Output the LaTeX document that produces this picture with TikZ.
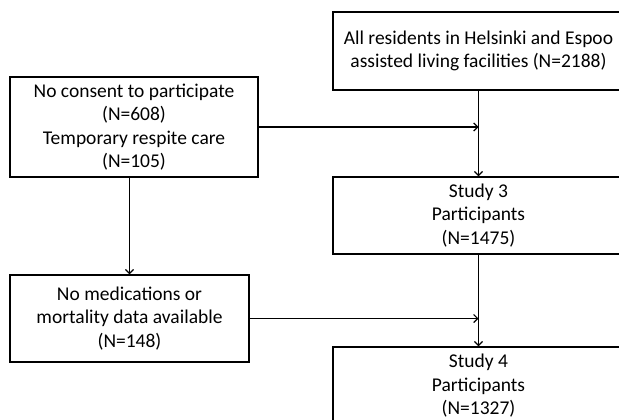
\documentclass[tikz,border=0pt]{standalone}
\usepackage{fontspec}
\setmainfont{Carlito}
\usetikzlibrary{arrows.meta}
\tikzset{
  box/.style={draw=black, line width=1.4bp, rectangle, align=center, inner sep=0pt,
    font=\fontsize{19.5bp}{23.5bp}\selectfont},
  conn/.style={draw=black, line width=1.4bp},
  arr/.style={conn, -{Straight Barb[length=4bp,width=8bp,line width=1.2bp]}}
}
\begin{document}
\begin{tikzpicture}[x=1bp,y=-1bp]
\useasboundingbox (0,0) rectangle (619,419);
\fill[white] (0,0) rectangle (619,419);
\clip (0,0) rectangle (619,419);
\node[box, minimum width=291bp, minimum height=78bp] (all) at (478.5,51)
  {All residents in Helsinki and Espoo\\assisted living facilities (N=2188)};
\node[box, minimum width=248bp, minimum height=100bp] (noconsent) at (134,127)
  {No consent to participate\\(N=608)\\Temporary respite care\\(N=105)};
\node[box, minimum width=291bp, minimum height=77bp] (s3) at (478.5,215.5)
  {Study 3\\Participants\\(N=1475)};
\node[box, minimum width=239bp, minimum height=87bp] (nomed) at (129.5,318.5)
  {No medications or\\mortality data available\\(N=148)};
\node[box, minimum width=291bp, minimum height=78bp] (s4) at (478.5,386)
  {Study 4\\Participants\\(N=1327)};
\coordinate (j1) at (all.south |- noconsent.east);
\coordinate (j2) at (s3.south |- nomed.east);
\draw[arr] (all.south) -- (s3.north);
\draw[arr] (noconsent.east) -- (j1);
\draw[arr] (s3.south) -- (s4.north);
\draw[arr] (nomed.east) -- (j2);
\draw[arr] (noconsent.south -| nomed.north) -- (nomed.north);
\end{tikzpicture}
\end{document}
